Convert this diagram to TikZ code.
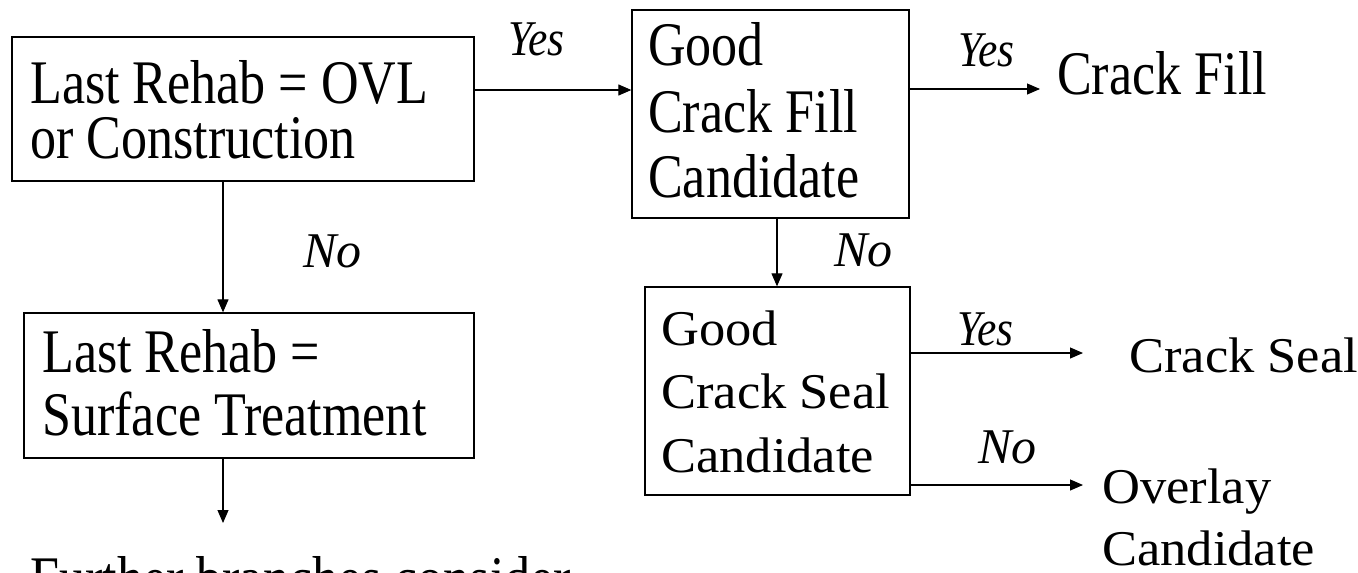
\documentclass[tikz,border=0pt]{standalone}
\usepackage{fontspec}
\setmainfont{Liberation Serif}
\newfontfamily\fA[FakeStretch=0.84]{Liberation Serif}
\newfontfamily\fB[FakeStretch=1.05]{Liberation Serif}
\newfontfamily\fYes[FakeStretch=0.87]{Liberation Serif}
\usetikzlibrary{arrows.meta}
\begin{document}
\begin{tikzpicture}[x=1pt,y=-1pt,
  box/.style={draw, line width=1.3pt, inner sep=0pt, rectangle},
  big/.style={inner sep=0pt, anchor=base west, font=\fA\fontsize{62}{62}\selectfont},
  mid/.style={inner sep=0pt, anchor=base west, font=\fB\fontsize{50}{50}\selectfont},
  labyes/.style={inner sep=0pt, anchor=base west, font=\fYes\itshape\fontsize{50}{50}\selectfont},
  labno/.style={inner sep=0pt, anchor=base west, font=\itshape\fontsize{50}{50}\selectfont},
  arr/.style={line width=1.1pt, -{Triangle[length=13pt,width=11pt]}}]
\useasboundingbox (0,0) rectangle (1358,573);

% boxes
\node[box, minimum width=462pt, minimum height=144pt] (b1) at (243,109) {};
\node[box, minimum width=277pt, minimum height=208pt] (b2) at (770.5,114) {};
\node[box, minimum width=450pt, minimum height=145pt] (b3) at (249,385.5) {};
\node[box, minimum width=265pt, minimum height=208pt] (b4) at (777.5,391) {};

% box texts
\node[big] (t1a) at (30,103) {Last Rehab = OVL};
\node[big] (t1b) at (30,158) {or Construction};
\node[big] (t2a) at (648,65) {Good};
\node[big] (t2b) at (648,132) {Crack Fill};
\node[big] (t2c) at (648,197) {Candidate};
\node[big] (t3a) at (42,372) {Last Rehab =};
\node[big] (t3b) at (42,435) {Surface Treatment};
\node[mid] (t4a) at (661,345) {Good};
\node[mid] (t4b) at (661,408) {Crack Seal};
\node[mid] (t4c) at (661,472) {Candidate};

% outcome texts
\node[big] (cf) at (1057,94) {Crack Fill};
\node[mid] (cs) at (1129,372) {Crack Seal};
\node[mid] (ov) at (1102,503) {Overlay};
\node[mid] (ov2) at (1102,565) {Candidate};
\node[big] (fb) at (30,599) {Further branches consider};

% labels
\node[labyes] (l1) at (508,55) {Yes};
\node[labyes] (l2) at (958,66) {Yes};
\node[labno] (l3) at (303,267) {No};
\node[labno] (l4) at (834,266) {No};
\node[labyes] (l5) at (957,345) {Yes};
\node[labno] (l6) at (978,463) {No};

% connectors
\draw[arr] ([yshift=19pt]b1.east) -- ([yshift=19pt]b1.east -| b2.west);
\draw[arr] ([xshift=-20pt]b1.south) -- ([xshift=-20pt]b1.south |- b3.north);
\coordinate (fend) at (223,523);
\draw[arr] (b3.south -| fend) -- (fend);
\draw[arr] ([xshift=6.5pt]b2.south) -- ([xshift=6.5pt]b2.south |- b4.north);
\draw[arr, shorten >=17pt] ([yshift=25pt]b2.east) -- ([yshift=25pt]b2.east -| cf.west);
\draw[arr, shorten >=46pt] ([yshift=38pt]b4.east) -- ([yshift=38pt]b4.east -| cs.west);
\draw[arr, shorten >=19pt] ([yshift=-94pt]b4.east) -- ([yshift=-94pt]b4.east -| ov.west);
\end{tikzpicture}
\end{document}
